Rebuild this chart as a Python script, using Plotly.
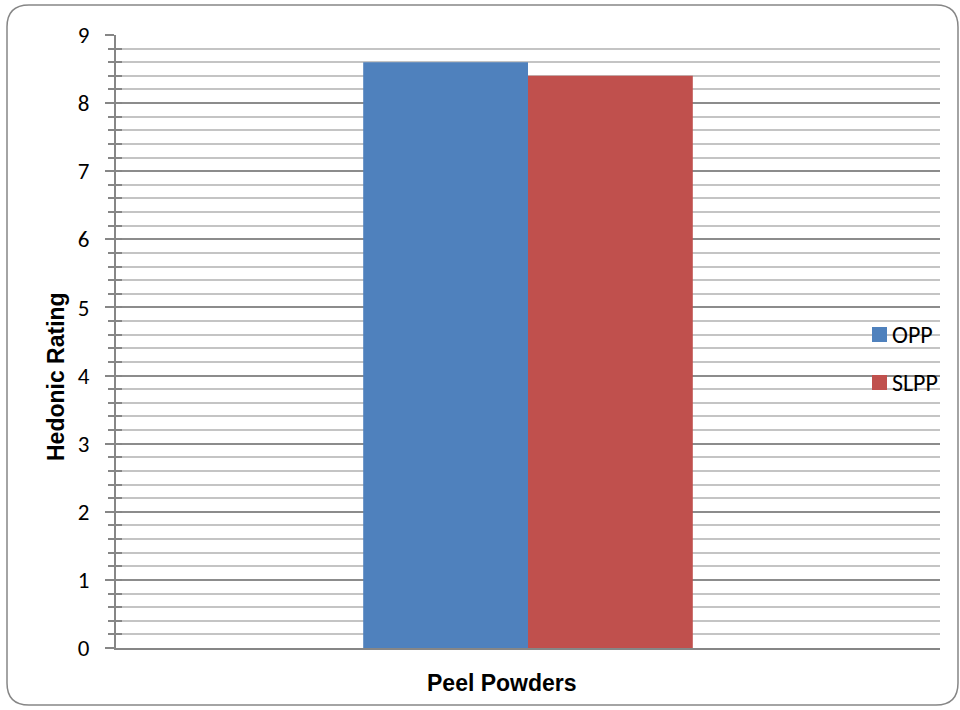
import plotly.graph_objects as go

categories = ["Peel Powders"]
series_names = ["OPP", "SLPP"]
opp_values = [8.6]
slpp_values = [8.4]
colors = ["#4F81BD", "#C0504D"]

W_FIG, H_FIG = 960, 710
L, R, T, B = 116, 940, 35, 648
PW, PH = R - L, B - T

def px(x):
    return (x - L) / PW

def py(y):
    return (B - y) / PH

fig = go.Figure()
for name, vals, col in zip(series_names, [opp_values, slpp_values], colors):
    fig.add_trace(go.Bar(x=categories, y=vals, name=name, marker_color=col,
                         marker_line_width=0, showlegend=False))

# invisible trace for secondary overlay axis (crossing ticks)
fig.add_trace(go.Scatter(x=categories, y=[None], yaxis="y2", showlegend=False,
                         hoverinfo="skip"))

tick_font = dict(family="Carlito, Lato, sans-serif", size=23, color="#000000")

fig.update_layout(
    width=W_FIG, height=H_FIG,
    margin=dict(l=L, r=W_FIG - R, t=T, b=H_FIG - B),
    paper_bgcolor="white", plot_bgcolor="white",
    barmode="group", bargap=0.6, bargroupgap=0,
    showlegend=False,
    xaxis=dict(showticklabels=False, showgrid=False, showline=True,
               linecolor="#868686", linewidth=2, ticks="", zeroline=False),
    yaxis=dict(range=[0, 9], dtick=1, tick0=0, showgrid=True, gridcolor="#8c8c8c",
               gridwidth=2, showline=True, linecolor="#868686", linewidth=2,
               ticks="outside", ticklen=9, tickcolor="#868686", tickwidth=2,
               tickfont=tick_font, zeroline=False, ticklabelstandoff=11,
               minor=dict(dtick=0.2, showgrid=True, gridcolor="#c4c4c4", gridwidth=2,
                          ticks="outside", ticklen=6, tickcolor="#868686", tickwidth=2)),
    yaxis2=dict(range=[0, 9], overlaying="y", side="left", showgrid=False,
                showticklabels=False, ticks="inside", ticklen=6, dtick=1,
                tickcolor="#868686", tickwidth=2, zeroline=False, showline=False,
                minor=dict(dtick=0.2, ticks="inside", ticklen=6, tickcolor="#868686",
                           tickwidth=2, showgrid=False)),
)

# custom legend
leg_font = dict(family="Carlito, Lato, sans-serif", size=24, color="#000")
for i, (name, col) in enumerate(zip(series_names, colors)):
    cy = 334.5 + 48 * i
    fig.add_shape(type="rect", xref="paper", yref="paper",
                  x0=px(872), x1=px(887), y0=py(cy + 7.5), y1=py(cy - 7.5),
                  fillcolor=col, line_width=0)
    fig.add_annotation(text=name, x=px(890), y=py(cy), xref="paper", yref="paper",
                       xanchor="left", yanchor="middle", showarrow=False, font=leg_font)

# axis titles
title_font = dict(family="Liberation Sans, Arial", size=23, color="#000")
fig.add_annotation(text="<b>Peel Powders</b>", x=px(502), y=py(683), xref="paper", yref="paper",
                   xanchor="center", yanchor="middle", showarrow=False, font=title_font)
fig.add_annotation(text="<b>Hedonic Rating</b>", x=px(56), y=py(377), xref="paper", yref="paper",
                   xanchor="center", yanchor="middle",
                   textangle=-90, showarrow=False, font=title_font)

# rounded chart border
x0, y0, x1, y1, r = 7, 5, 958, 705, 22
def P(x, y):
    return f"{px(x):.5f},{py(y):.5f}"
path = (f"M {P(x0 + r, y0)} L {P(x1 - r, y0)} Q {P(x1, y0)} {P(x1, y0 + r)} "
        f"L {P(x1, y1 - r)} Q {P(x1, y1)} {P(x1 - r, y1)} "
        f"L {P(x0 + r, y1)} Q {P(x0, y1)} {P(x0, y1 - r)} "
        f"L {P(x0, y0 + r)} Q {P(x0, y0)} {P(x0 + r, y0)} Z")
fig.add_shape(type="path", path=path, xref="paper", yref="paper",
              line=dict(color="#868686", width=1.5), fillcolor="rgba(0,0,0,0)", layer="below")

fig.write_html("out.html", config={"displayModeBar": False},
               post_script="document.body.style.margin='0';")
